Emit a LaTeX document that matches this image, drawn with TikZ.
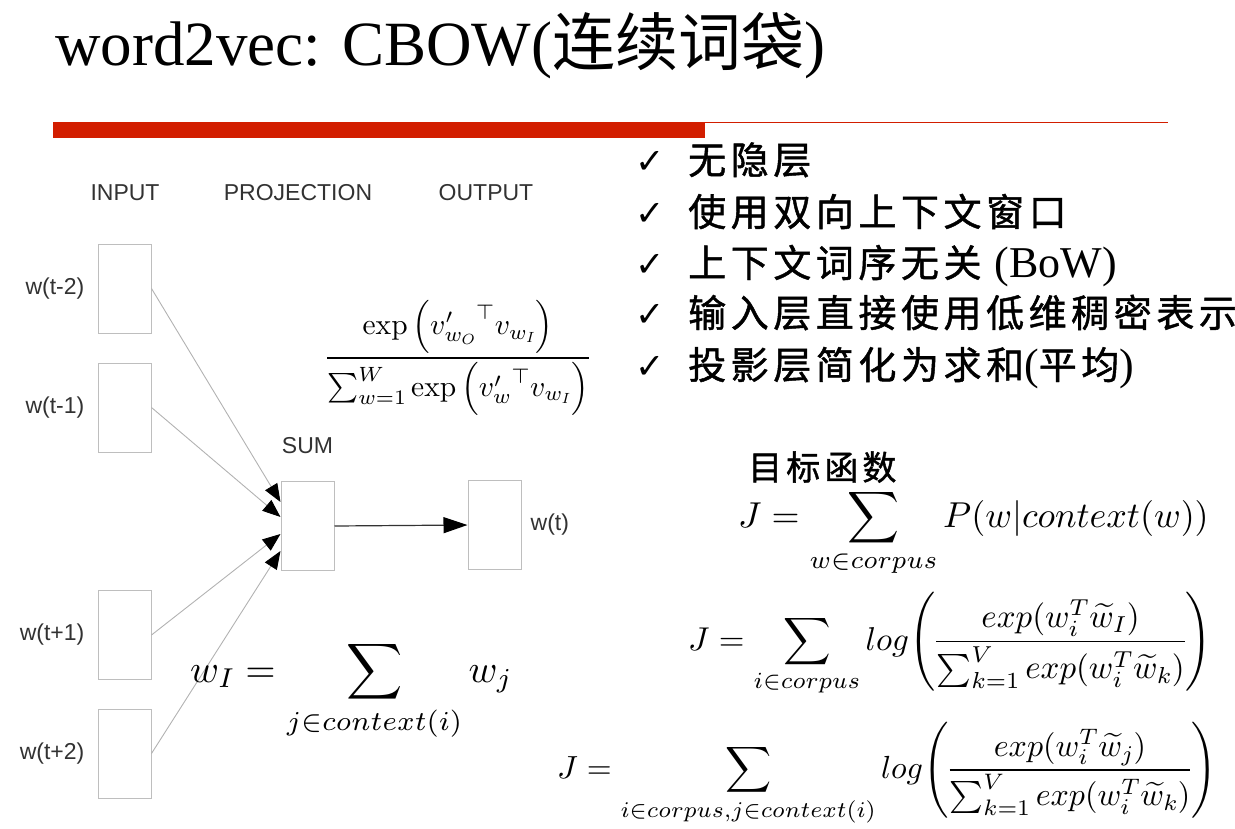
\RequirePackage{fix-cm}
\documentclass[tikz,border=0pt]{standalone}
\usepackage{amsmath}
\usepackage[no-math]{fontspec}
\setmainfont{Liberation Serif}
\newfontfamily\labelfont{Liberation Sans}
\newfontfamily\cjk{Noto Sans CJK SC}
\newfontfamily\cjkspaced[LetterSpace=12, FakeBold=1.2]{Noto Sans CJK SC}
\newfontfamily\symfont{DejaVu Sans}
% math fonts: CM at 10pt design for text, 7pt design for scripts, scaled freely
\DeclareFontShape{OT1}{cmr}{m}{n}{<-28.5>cmr7<28.5->cmr10}{}
\DeclareFontShape{OML}{cmm}{m}{it}{<-28.5>cmmi7<28.5->cmmi10}{}
\DeclareFontShape{OMS}{cmsy}{m}{n}{<-28.5>cmsy7<28.5->cmsy10}{}
\DeclareFontShape{OMX}{cmex}{m}{n}{<->cmex10}{}
\usetikzlibrary{arrows.meta, positioning, calc}
\definecolor{slidered}{RGB}{210,30,0}
\definecolor{boxgray}{RGB}{190,190,190}
\definecolor{labelgray}{RGB}{50,50,50}

\begin{document}
\begin{tikzpicture}[
    x=1pt, y=-1pt,
    wordbox/.style={draw=boxgray, line width=1pt, minimum width=53pt, minimum height=89pt, inner sep=0pt},
    nnlabel/.style={font=\labelfont\fontsize{23}{26}\selectfont, text=labelgray, inner sep=0pt},
    ctxarr/.style={draw=black!30, line width=0.9pt, -{Triangle[length=18pt, width=14pt, color=black]}},
    outarr/.style={draw=black!80, line width=1.2pt, -{Triangle[length=24pt, width=16pt, color=black]}},
    tick/.style={anchor=base west, font=\symfont\fontsize{35}{37}\selectfont, inner sep=0pt},
    checkitem/.style={anchor=base west, font=\cjkspaced\fontsize{38}{40}\selectfont, inner sep=0pt},
    formula/.style={anchor=base west, font=\fontsize{36}{40}\selectfont, inner sep=0pt}
]
\useasboundingbox (0,0) rectangle (1235,828);

% Title and rule
\node[anchor=base west, inner sep=0pt, font=\fontsize{63}{66}\selectfont] (title) at (55,65) {word2vec: CBOW({\cjk 连续词袋})};
\fill[slidered] (53,122) rectangle (705,138);
\draw[slidered, line width=1.5pt] (705,122.5) -- (1168,122.5);

% Network: input, projection, output
\node[nnlabel] (hin) at (125,193) {INPUT};
\node[nnlabel] (hproj) at (298,193) {PROJECTION};
\node[nnlabel] (hout) at (486,193) {OUTPUT};

\node[wordbox] (in1) at (124.5,288.5) {};
\node[wordbox] (in2) at (124.5,407.5) {};
\node[wordbox] (in3) at (124.5,635) {};
\node[wordbox] (in4) at (124.5,753.5) {};
\node[wordbox] (sum) at (307.5,526) {};
\node[wordbox] (out) at (494.5,525) {};

\node[nnlabel, left=13pt of in1] (lin1) {w(t-2)};
\node[nnlabel, left=13pt of in2] (lin2) {w(t-1)};
\node[nnlabel, left=13pt of in3] (lin3) {w(t+1)};
\node[nnlabel, left=13pt of in4] (lin4) {w(t+2)};
\node[nnlabel, above=27pt of sum] (lsum) {SUM};
\node[nnlabel, right=9pt of out] (lout) {w(t)};

% Connectors
\foreach \src/\dy in {in1/24, in2/9, in3/-8, in4/-25} {
    \draw[ctxarr] (\src.east) -- ([yshift=\dy pt]sum.west);
}
\draw[outarr] (sum.east) -- (out.west);

% Softmax and projection sum
\node[inner sep=0pt, font=\fontsize{29.5}{33}\selectfont] (softmax) at (458,358)
    {$\displaystyle\frac{\exp\left({v'_{w_O}}^{\top}v_{w_I}\right)}{\sum_{w=1}^{W}\exp\left({v'_{w}}^{\top}v_{w_I}\right)}$};
\node[formula, font=\fontsize{39}{43}\selectfont] (wsum) at (190,682)
    {$\displaystyle w_I = \sum_{j\in context(i)} w_j$};

% Checklist
\foreach \row/\yb/\txt in {
    1/174/{无隐层},
    2/226/{使用双向上下文窗口},
    3/277/{上下文词序无关 {\rmfamily\fontsize{44}{46}\selectfont(BoW)}},
    4/327/{输入层直接使用低维稠密表示},
    5/379/{投影层简化为求和{\rmfamily\fontsize{44}{46}\selectfont(}平均{\rmfamily\fontsize{44}{46}\selectfont)}}} {
    \node[tick] (tick\row) at (635,\yb-1) {✓};
    \node[checkitem] (item\row) at (688,\yb) {\txt};
}

% Objective functions
\node[anchor=base west, inner sep=0pt, font=\cjkspaced\fontsize{34}{36}\selectfont] (objlabel) at (748,480) {目标函数};
\node[formula] (obj1) at (738,527)
    {$\displaystyle J = \sum_{w\in corpus} P(w|context(w))$};
\node[formula, font=\fontsize{33}{36}\selectfont] (obj2) at (688,650)
    {$\displaystyle J = \sum_{i\in corpus} log\Biggl(\frac{exp(w_i^T\widetilde{w}_I)}{\sum_{k=1}^{V} exp(w_i^T\widetilde{w}_k)}\Biggr)$};
\node[formula, font=\fontsize{32}{35}\selectfont] (obj3) at (557,778)
    {$\displaystyle J = \sum_{i\in corpus,j\in context(i)} log\Biggl(\frac{exp(w_i^T\widetilde{w}_j)}{\sum_{k=1}^{V} exp(w_i^T\widetilde{w}_k)}\Biggr)$};
\end{tikzpicture}
\end{document}
